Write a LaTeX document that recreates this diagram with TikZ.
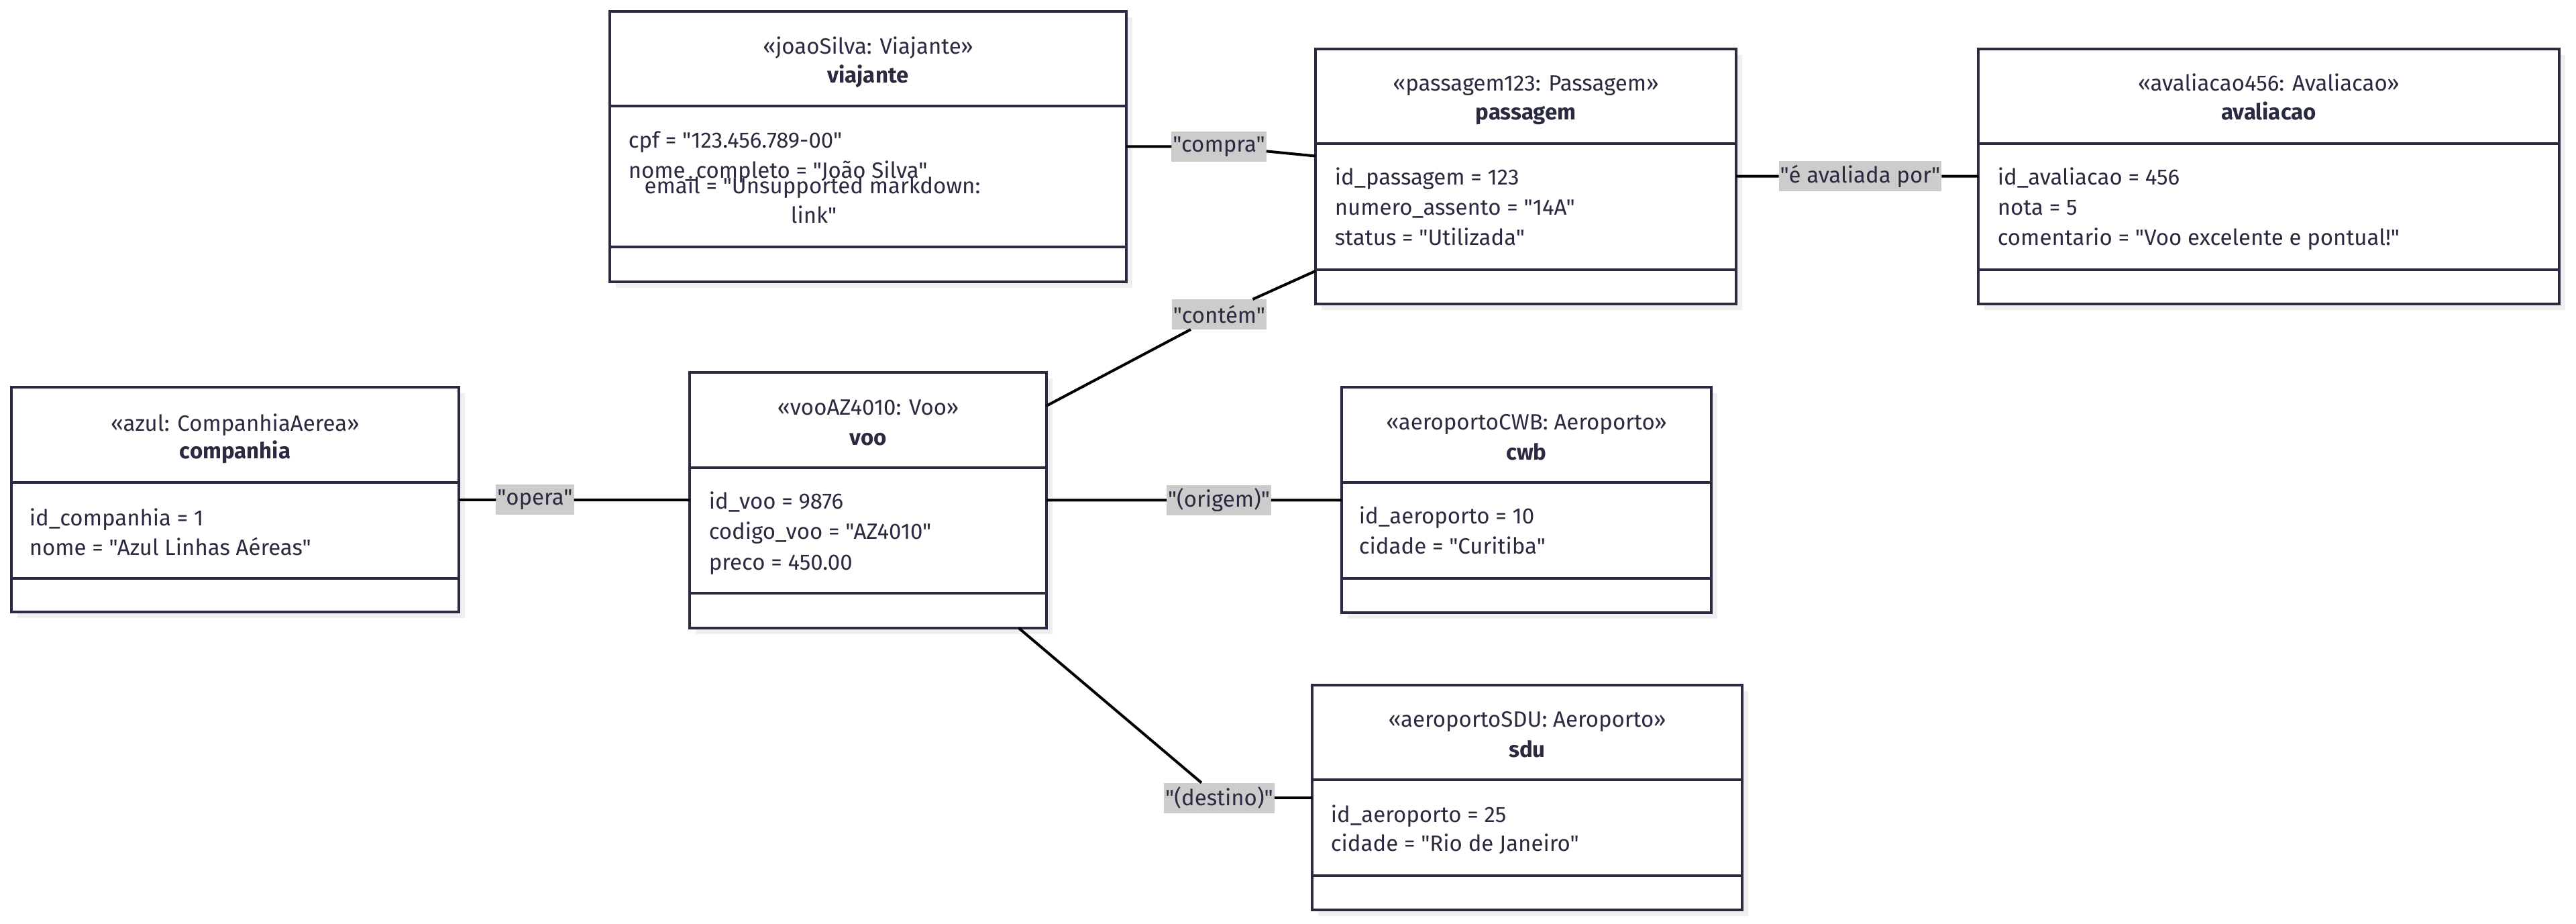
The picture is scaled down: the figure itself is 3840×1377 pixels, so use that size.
\documentclass[tikz,border=0pt]{standalone}
\usepackage{fontspec}
\setmainfont{Fira Sans}[Ligatures=TeXOff]
\usepackage{tikz}
\usetikzlibrary{fit,shadows}

\definecolor{ink}{HTML}{2A2A40}
\definecolor{relbg}{HTML}{CCCCCC}
\definecolor{shade}{HTML}{EFEFEF}

\tikzset{
  obj/.style={draw=ink, line width=1pt, fill=white, inner sep=0pt, outer sep=0pt,
    drop shadow={shadow xshift=2.25pt, shadow yshift=-2.25pt, fill=shade, opacity=1}},
  divider/.style={draw=ink, line width=1pt},
  stereo/.style={text=ink, font=\fontsize{8.25}{9.9}\selectfont, anchor=mid, inner sep=0pt},
  oname/.style={stereo, font=\fontsize{8.25}{9.9}\selectfont\bfseries},
  attr/.style={stereo, anchor=mid west},
  rel/.style={fill=relbg, text=ink, font=\fontsize{8.25}{9.9}\selectfont, inner xsep=0.5pt,
    inner ysep=0pt, minimum height=11.25pt, outer sep=0pt},
  assoc/.style={line width=1pt, black}
}

\begin{document}
\begin{tikzpicture}[x=0.25pt, y=-0.25pt]
\useasboundingbox (0,0) rectangle (3840,1377);

% object boxes
\node[obj, fit={(909,17) (1679,420)}] (viajante) {};
\draw[divider] (909,158) -- (1679,158) (909,368) -- (1679,368);
\node[obj, fit={(1961,73) (2588,453)}] (passagem) {};
\draw[divider] (1961,214) -- (2588,214) (1961,402) -- (2588,402);
\node[obj, fit={(2949,73) (3815,453)}] (avaliacao) {};
\draw[divider] (2949,214) -- (3815,214) (2949,402) -- (3815,402);
\node[obj, fit={(17,577) (684,912)}] (companhia) {};
\draw[divider] (17,719) -- (684,719) (17,862) -- (684,862);
\node[obj, fit={(1028,555) (1560,936)}] (voo) {};
\draw[divider] (1028,697) -- (1560,697) (1028,884) -- (1560,884);
\node[obj, fit={(2000,577) (2551,913)}] (cwb) {};
\draw[divider] (2000,719) -- (2551,719) (2000,862) -- (2551,862);
\node[obj, fit={(1956,1021) (2597,1356)}] (sdu) {};
\draw[divider] (1956,1162) -- (2597,1162) (1956,1305) -- (2597,1305);

% viajante
\node[stereo] (viajante_st) at (1294,70) {«joaoSilva: Viajante»};
\node[oname] (viajante_nm) at (1294,113) {viajante};
\node[attr] (viajante_a1) at (936,210) {cpf = "123.456.789-00"};
\node[attr] (viajante_a2) at (936,255) {nome\_completo = "João Silva"};
\node[stereo] (viajante_a3) at (1211,278) {email = "Unsupported markdown:};
\node[stereo] (viajante_a4) at (1213,322) {link"};

% passagem
\node[stereo] (passagem_st) at (2274.5,125) {«passagem123: Passagem»};
\node[oname] (passagem_nm) at (2274.5,168) {passagem};
\node[attr] (passagem_a1) at (1989,265) {id\_passagem = 123};
\node[attr] (passagem_a2) at (1989,310) {numero\_assento = "14A"};
\node[attr] (passagem_a3) at (1989,355) {status = "Utilizada"};

% avaliacao
\node[stereo] (avaliacao_st) at (3382,125) {«avaliacao456: Avaliacao»};
\node[oname] (avaliacao_nm) at (3382,168) {avaliacao};
\node[attr] (avaliacao_a1) at (2977,265) {id\_avaliacao = 456};
\node[attr] (avaliacao_a2) at (2977,310) {nota = 5};
\node[attr] (avaliacao_a3) at (2977,355) {comentario = "Voo excelente e pontual!"};

% companhia
\node[stereo] (companhia_st) at (350.5,632) {«azul: CompanhiaAerea»};
\node[oname] (companhia_nm) at (350.5,673) {companhia};
\node[attr] (companhia_a1) at (43,773) {id\_companhia = 1};
\node[attr] (companhia_a2) at (43,817) {nome = "Azul Linhas Aéreas"};

% voo
\node[stereo] (voo_st) at (1294,608) {«vooAZ4010: Voo»};
\node[oname] (voo_nm) at (1294,653) {voo};
\node[attr] (voo_a1) at (1056,748) {id\_voo = 9876};
\node[attr] (voo_a2) at (1056,793) {codigo\_voo = "AZ4010"};
\node[attr] (voo_a3) at (1056,839) {preco = 450.00};

% cwb
\node[stereo] (cwb_st) at (2275.5,630) {«aeroportoCWB: Aeroporto»};
\node[oname] (cwb_nm) at (2275.5,675) {cwb};
\node[attr] (cwb_a1) at (2025,770) {id\_aeroporto = 10};
\node[attr] (cwb_a2) at (2025,815) {cidade = "Curitiba"};

% sdu
\node[stereo] (sdu_st) at (2276.5,1073) {«aeroportoSDU: Aeroporto»};
\node[oname] (sdu_nm) at (2276.5,1118) {sdu};
\node[attr] (sdu_a1) at (1983,1215) {id\_aeroporto = 25};
\node[attr] (sdu_a2) at (1983,1258) {cidade = "Rio de Janeiro"};

% association labels
\node[rel] (l_compra) at (1817,218.5) {"compra"};
\node[rel] (l_contem) at (1817.5,468.5) {"contém"};
\node[rel] (l_aval) at (2773,262.5) {"é avaliada por"};
\node[rel] (l_opera) at (797.5,745) {"opera"};
\node[rel] (l_origem) at (1817,745.5) {"(origem)"};
\node[rel] (l_destino) at (1817.5,1189) {"(destino)"};

% associations
\draw[assoc] (viajante) -- (l_compra) -- (passagem);
\draw[assoc] (voo) -- (l_contem) -- (passagem);
\draw[assoc] (passagem) -- (l_aval) -- (avaliacao);
\draw[assoc] (companhia) -- (l_opera) -- (voo);
\draw[assoc] (voo) -- (l_origem) -- (cwb);
\draw[assoc] (voo) -- (l_destino) -- (sdu);
\end{tikzpicture}
\end{document}
